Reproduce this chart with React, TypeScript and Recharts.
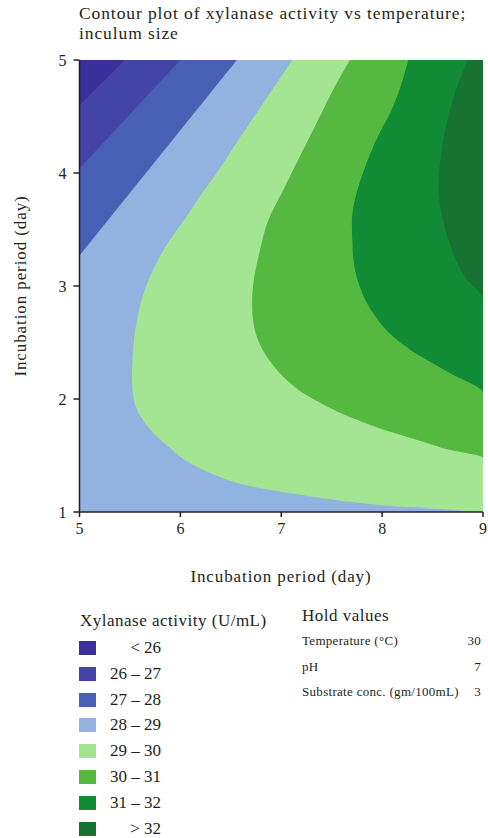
import { ComposedChart, Area, XAxis, YAxis, CartesianGrid } from 'recharts';

// Contour boundaries, read as x (day) for each y (day). Values clamp at the plot edge.
const contour26 = [{ y: 4.6, x: 5 }, { y: 5, x: 5.45 }];
const contour27 = [{ y: 4.04, x: 5 }, { y: 5, x: 6.0 }];
const contour28 = [{ y: 3.27, x: 5 }, { y: 5, x: 6.56 }];
const contour29 = [
    { y: 1.0, x: 9 }, { y: 1.02, x: 8.67 }, { y: 1.04, x: 8.34 }, { y: 1.06, x: 8.0 },
    { y: 1.09, x: 7.68 }, { y: 1.13, x: 7.35 }, { y: 1.18, x: 7.0 }, { y: 1.21, x: 6.79 },
    { y: 1.25, x: 6.59 }, { y: 1.31, x: 6.39 }, { y: 1.39, x: 6.19 }, { y: 1.47, x: 6.03 },
    { y: 1.58, x: 5.88 }, { y: 1.7, x: 5.73 }, { y: 1.84, x: 5.61 }, { y: 1.99, x: 5.54 },
    { y: 2.17, x: 5.52 }, { y: 2.43, x: 5.53 }, { y: 2.7, x: 5.57 }, { y: 3.0, x: 5.66 },
    { y: 3.2, x: 5.76 }, { y: 3.4, x: 5.89 }, { y: 3.6, x: 6.05 }, { y: 3.8, x: 6.2 },
    { y: 4.0, x: 6.36 }, { y: 4.3, x: 6.58 }, { y: 4.59, x: 6.8 }, { y: 5.0, x: 7.11 },
];
const contour30 = [
    { y: 1.0, x: 9 }, { y: 1.48, x: 9 }, { y: 1.55, x: 8.67 }, { y: 1.64, x: 8.34 },
    { y: 1.73, x: 8.01 }, { y: 1.84, x: 7.68 }, { y: 1.94, x: 7.44 }, { y: 2.05, x: 7.22 },
    { y: 2.17, x: 7.05 }, { y: 2.32, x: 6.9 }, { y: 2.5, x: 6.78 }, { y: 2.7, x: 6.72 },
    { y: 2.85, x: 6.71 }, { y: 3.0, x: 6.72 }, { y: 3.32, x: 6.79 }, { y: 3.58, x: 6.87 },
    { y: 3.85, x: 7.02 }, { y: 4.14, x: 7.18 }, { y: 4.44, x: 7.35 }, { y: 4.73, x: 7.51 },
    { y: 5.0, x: 7.68 },
];
const contour31 = [
    { y: 1.0, x: 9 }, { y: 2.05, x: 9 }, { y: 2.23, x: 8.67 }, { y: 2.4, x: 8.34 },
    { y: 2.55, x: 8.11 }, { y: 2.76, x: 7.91 }, { y: 2.99, x: 7.78 }, { y: 3.29, x: 7.71 },
    { y: 3.58, x: 7.7 }, { y: 3.8, x: 7.74 }, { y: 4.0, x: 7.81 }, { y: 4.29, x: 7.94 },
    { y: 4.59, x: 8.11 }, { y: 5.0, x: 8.26 },
];
const contour32 = [
    { y: 1.0, x: 9 }, { y: 2.88, x: 9 }, { y: 3.08, x: 8.82 }, { y: 3.35, x: 8.68 },
    { y: 3.6, x: 8.6 }, { y: 3.85, x: 8.56 }, { y: 4.14, x: 8.58 }, { y: 4.44, x: 8.64 },
    { y: 4.73, x: 8.73 }, { y: 5.0, x: 8.85 },
];

const levelLabels = ['< 26', '26 – 27', '27 – 28', '28 – 29', '29 – 30', '30 – 31', '31 – 32', '> 32'];
const levelColors = ['#3a2f9b', '#4344a6', '#4760b4', '#92b2df', '#a3e592', '#55b941', '#118b35', '#187231'];

const xTicks = [5, 6, 7, 8, 9];
const yTicks = [1, 2, 3, 4, 5];

const holdNames = ['Temperature (°C)', 'pH', 'Substrate conc. (gm/100mL)'];
const holdValues = [30, 7, 3];

// each contour fills from the left edge up to its boundary; drawn high → low so lower bands sit on top
const contours = [
    { key: 'c32', pts: contour32, color: levelColors[6] },
    { key: 'c31', pts: contour31, color: levelColors[5] },
    { key: 'c30', pts: contour30, color: levelColors[4] },
    { key: 'c29', pts: contour29, color: levelColors[3] },
    { key: 'c28', pts: contour28, color: levelColors[2] },
    { key: 'c27', pts: contour27, color: levelColors[1] },
    { key: 'c26', pts: contour26, color: levelColors[0] },
];

const rows = contours.flatMap(({ key, pts }) => pts.map((p) => ({ y: p.y, [key]: p.x })));

const FONT = '"Liberation Serif", "DejaVu Serif", serif';
const INK = '#231f20';

const axisTitle = { fontSize: 17, letterSpacing: 0.9, fill: INK, fontFamily: FONT };

export default function App() {
    return (
        <div style={{ position: 'absolute', left: 0, top: 0, width: 488, height: 838, background: '#fff', fontFamily: FONT, color: INK }}>
            <div style={{ position: 'absolute', left: 79, top: 3, fontSize: 17.5, letterSpacing: 0.9, lineHeight: '20px' }}>
                Contour plot of xylanase activity vs temperature;<br />inculum size
            </div>

            <ComposedChart
                layout="vertical"
                width={488}
                height={600}
                data={rows}
                margin={{ top: 60, right: 5, bottom: 0, left: 0 }}
                style={{ position: 'absolute', left: 0, top: 0 }}
            >
                <CartesianGrid horizontal={false} vertical={false} fill={levelColors[7]} fillOpacity={1} />
                {contours.map((c) => (
                    <Area
                        key={c.key}
                        type="monotone"
                        dataKey={c.key}
                        baseValue="dataMin"
                        fill={c.color}
                        fillOpacity={1}
                        stroke="none"
                        connectNulls
                        dot={false}
                        activeDot={false}
                        isAnimationActive={false}
                    />
                ))}
                <XAxis
                    type="number"
                    domain={[5, 9]}
                    ticks={xTicks}
                    allowDataOverflow
                    height={88}
                    stroke={INK}
                    strokeWidth={1.5}
                    tickSize={5}
                    tickMargin={6}
                    tick={{ fontSize: 16, fill: INK, fontFamily: FONT }}
                    label={{
                        content: () => (
                            <text x={281} y={576} textAnchor="middle" dominantBaseline="central" {...axisTitle}>
                                Incubation period (day)
                            </text>
                        ),
                    }}
                />
                <YAxis
                    type="number"
                    dataKey="y"
                    domain={[1, 5]}
                    ticks={yTicks}
                    reversed
                    allowDataOverflow
                    width={79.5}
                    stroke={INK}
                    strokeWidth={1.5}
                    tickSize={6}
                    tickMargin={7}
                    tick={{ fontSize: 16, fill: INK, fontFamily: FONT }}
                    label={{
                        content: () => (
                            <text x={20} y={286} transform="rotate(-90 20 286)" textAnchor="middle" dominantBaseline="central" {...axisTitle}>
                                Incubation period (day)
                            </text>
                        ),
                    }}
                />
                <XAxis xAxisId="top" orientation="top" type="number" domain={[5, 9]} height={0} tick={false} tickLine={false} stroke="#333" />
                <YAxis yAxisId="right" orientation="right" type="number" domain={[1, 5]} reversed width={0} tick={false} tickLine={false} stroke="#333" />
            </ComposedChart>

            <div style={{ position: 'absolute', left: 80, top: 611, fontSize: 17, letterSpacing: 0.5 }}>Xylanase activity (U/mL)</div>
            {levelLabels.map((label, i) => (
                <div key={label} style={{ position: 'absolute', left: 79, top: 641 + i * 25.8, height: 14, width: 90 }}>
                    <div style={{ position: 'absolute', left: 0, top: 0, width: 17, height: 14, background: levelColors[i] }} />
                    <div style={{ position: 'absolute', right: 8, top: -3, fontSize: 17, lineHeight: '20px', whiteSpace: 'nowrap' }}>{label}</div>
                </div>
            ))}

            <div style={{ position: 'absolute', left: 302, top: 606, fontSize: 17, letterSpacing: 0.5 }}>Hold values</div>
            {holdNames.map((name, i) => (
                <div key={name} style={{ position: 'absolute', left: 302, top: 633 + i * 25.5, width: 179, fontSize: 13, letterSpacing: 0.3, lineHeight: '16px' }}>
                    <span>{name}</span>
                    <span style={{ position: 'absolute', right: 0 }}>{holdValues[i]}</span>
                </div>
            ))}
        </div>
    );
}
